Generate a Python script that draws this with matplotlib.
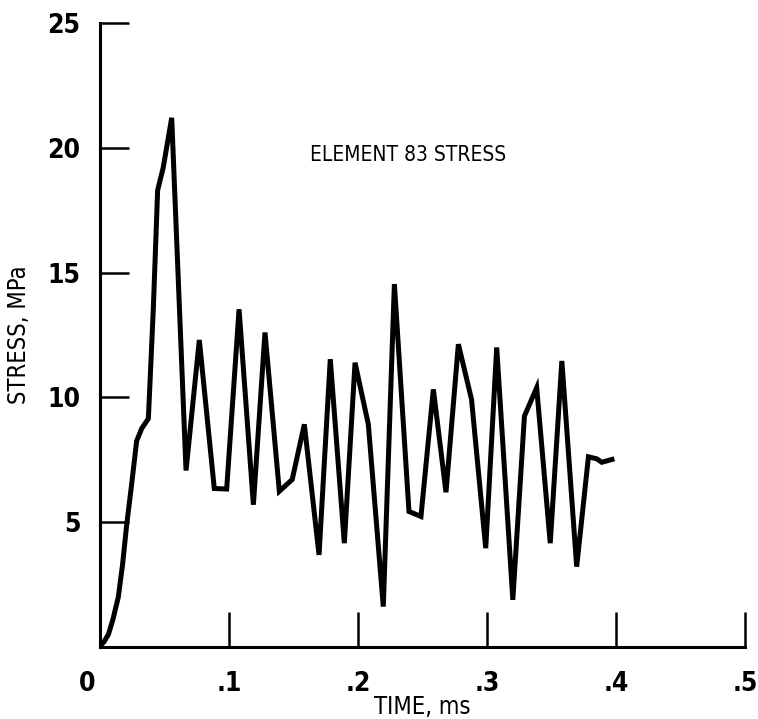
import matplotlib
matplotlib.use("Agg")
import matplotlib.pyplot as plt
import matplotlib.transforms as mtransforms
from matplotlib import font_manager

# Element 83 stress history (time in ms, stress in MPa)
time_ms = [0.0, 0.003, 0.0065, 0.010, 0.0142, 0.0175, 0.0207, 0.0245, 0.0284,
           0.0323, 0.0375, 0.0413, 0.0447, 0.049, 0.0556, 0.0667, 0.077,
           0.0886, 0.0982, 0.1078, 0.1189, 0.1279, 0.139, 0.149, 0.1584,
           0.1698, 0.1785, 0.1894, 0.1977, 0.208, 0.2196, 0.2282, 0.2395,
           0.2488, 0.2584, 0.2682, 0.2778, 0.288, 0.299, 0.3075, 0.320,
           0.329, 0.3385, 0.349, 0.358, 0.3695, 0.3786, 0.385, 0.389, 0.3987]
stress_mpa = [0.05, 0.2, 0.5, 1.1, 2.0, 3.3, 4.9, 6.5, 8.25,
              8.75, 9.15, 13.5, 18.3, 19.2, 21.2, 7.07, 12.3,
              6.35, 6.33, 13.53, 5.7, 12.6, 6.24, 6.71, 8.92,
              3.69, 11.53, 4.16, 11.39, 8.92, 1.62, 14.54, 5.43,
              5.23, 10.32, 6.2, 12.13, 9.92, 3.96, 12.0, 1.89,
              9.25, 10.39, 4.16, 11.46, 3.22, 7.62, 7.54, 7.4, 7.54]

x_ticks = [0, 0.1, 0.2, 0.3, 0.4, 0.5]
x_tick_labels = ["0", ".1", ".2", ".3", ".4", ".5"]
y_ticks = [5, 10, 15, 20, 25]
y_tick_labels = ["5", "10", "15", "20", "25"]

# prefer a narrow face if one is around
names = {f.name for f in font_manager.fontManager.ttflist}
narrow = [n for n in ("Liberation Sans Narrow", "DejaVu Sans Condensed")
          if n in names]
plt.rcParams["font.family"] = narrow + ["DejaVu Sans"]
plt.rcParams["font.stretch"] = "condensed"

fig = plt.figure(figsize=(7.58, 7.19), dpi=100)
ax = fig.add_axes([0.1319, 0.1001, 0.851, 0.868])

ax.plot(time_ms, stress_mpa, color="black", lw=3.6,
        solid_joinstyle="miter", solid_capstyle="butt")

ax.set_xlim(0, 0.5)
ax.set_ylim(0, 25)
for side in ("top", "right"):
    ax.spines[side].set_visible(False)
for side in ("left", "bottom"):
    ax.spines[side].set_linewidth(2.2)

ax.set_xticks(x_ticks)
ax.set_xticklabels(x_tick_labels, fontweight="bold")
ax.set_yticks(y_ticks)
ax.set_yticklabels(y_tick_labels, fontweight="bold")
ax.tick_params(axis="x", direction="in", length=25, width=1.8, pad=17,
               labelsize=19)
ax.tick_params(axis="y", direction="in", length=21, width=1.8, pad=14,
               labelsize=19)
ax.set_xticks([], minor=True)

# origin label sits a little left of the corner
zero_lbl = ax.get_xticklabels()[0]
zero_lbl.set_transform(zero_lbl.get_transform() +
                       mtransforms.ScaledTranslation(-0.13, 0,
                                                     fig.dpi_scale_trans))

ax.set_xlabel("TIME, ms", fontsize=17, labelpad=-1)
ax.set_ylabel("STRESS, MPa", fontsize=17, labelpad=12)

ax.text(0.163, 19.7, "ELEMENT 83 STRESS", fontsize=15, va="center",
        ha="left")

fig.savefig("out.png", dpi=100)
